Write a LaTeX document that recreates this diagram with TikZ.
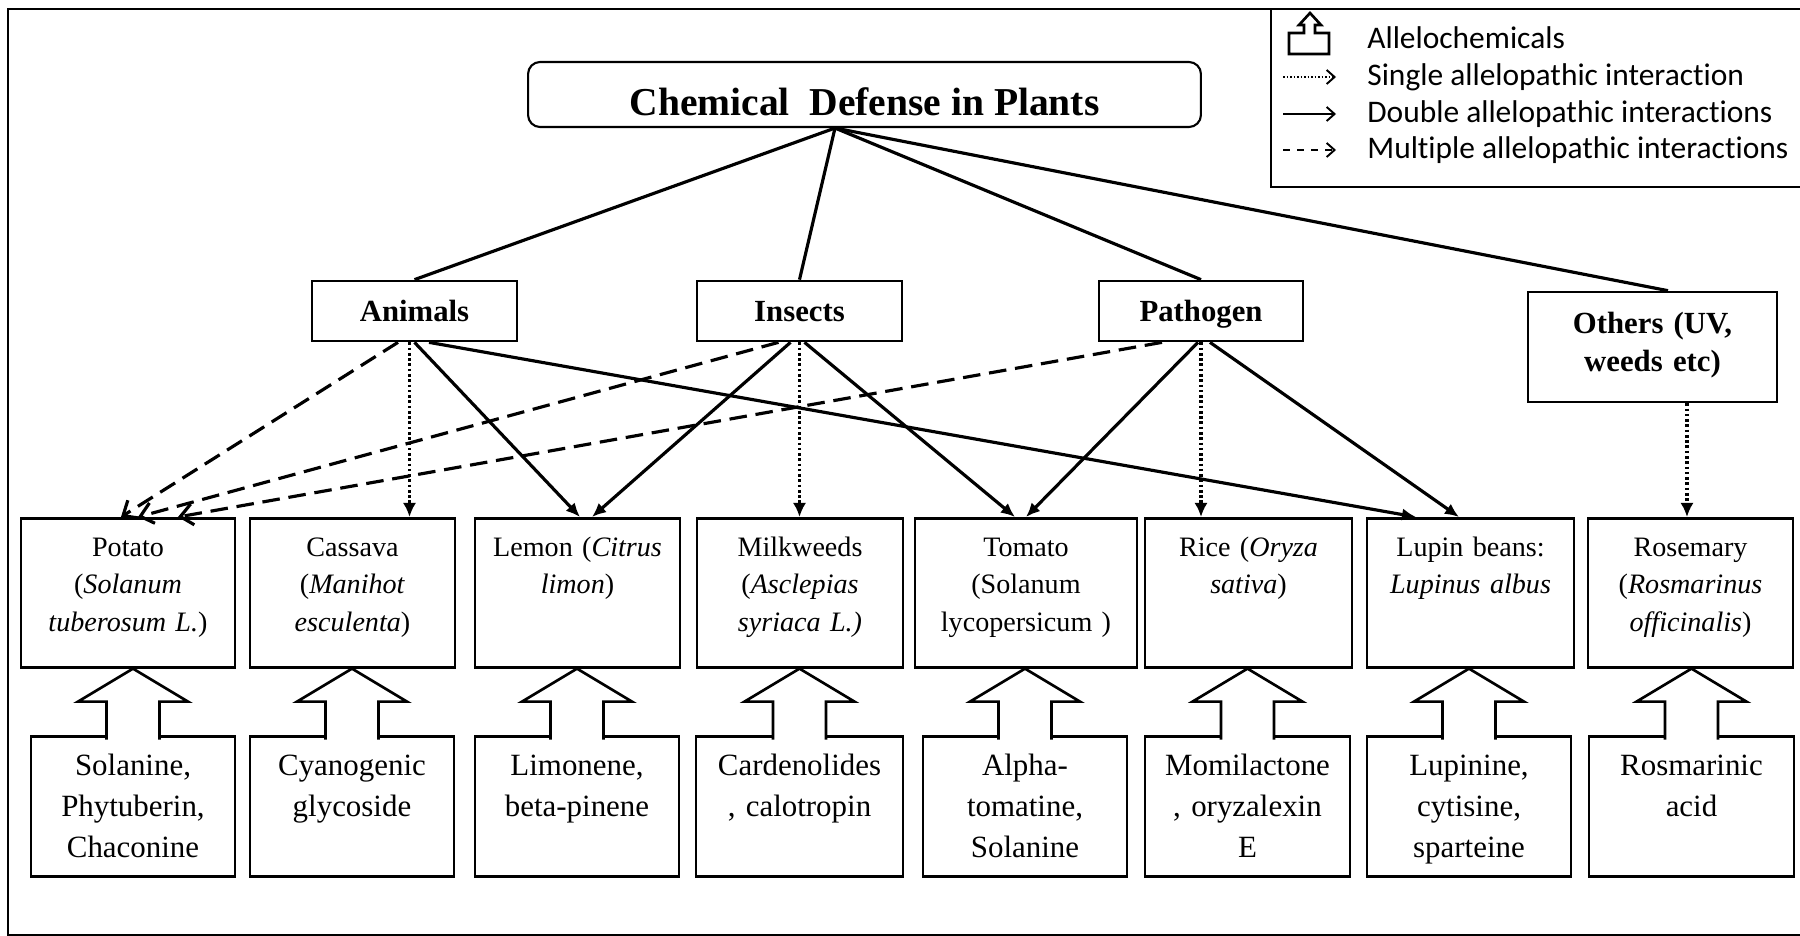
\documentclass[tikz,border=0pt]{standalone}
\usepackage{fontspec}
\setmainfont{Liberation Serif}
\newfontfamily\legendfont[Ligatures=NoCommon]{Carlito}
\usetikzlibrary{arrows.meta}

\begin{document}
\begin{tikzpicture}[
    x=0.02cm, y=-0.02cm,
    every node/.style={inner sep=0pt},
    outerframe/.style={line width=1.3pt},
    headbox/.style={draw,rounded corners=0.24cm,line width=1.2pt,minimum width=13.46cm,text height=30.2pt,text depth=6.8pt,font=\fontsize{22.5}{27}\selectfont\bfseries},
    groupbox/.style={draw,line width=1.5pt,text width=4.1cm,align=center,text height=23.3pt,text depth=10.9pt,font=\fontsize{17.5}{22}\selectfont\bfseries},
    plantbox/.style={draw,line width=1.5pt,anchor=north,text width=4.1cm,align=center,text height=21.6pt,text depth=63.2pt,font=\fontsize{16}{21.3}\selectfont},
    chembox/.style={draw,line width=1.5pt,anchor=north,text width=4.08cm,align=center,text height=22.2pt,text depth=57.5pt,font=\fontsize{17.6}{23.3}\selectfont},
    chemarrow/.style={line width=1.5pt,fill=white,line join=miter},
    link/.style={line width=1.8pt},
    singlelink/.style={link,dash pattern=on 1.5pt off 1.5pt,-{Latex[length=8pt,width=7.5pt]}},
    doublelink/.style={link,-{Latex[length=8pt,width=7pt]}},
    multilink/.style={link,dash pattern=on 10pt off 5pt,-{Straight Barb[length=7pt,width=12pt]}},
    legendtext/.style={anchor=base west,font=\legendfont\fontsize{17.9}{21}\selectfont},
    legendlink/.style={line width=1.1pt,-{Straight Barb[length=4.5pt,width=8pt]}}
  ]
  \useasboundingbox[fill=white] (0,0) rectangle (1800,936);
  \draw[outerframe] (8,9) rectangle (1830,935.5);

  % title and the four threats
  \node[headbox] (head) at (864.5,94.5) {Chemical\ \ Defense in Plants};
  \coordinate (hub) at ([xshift=-0.59cm]head.south);
  \node[groupbox] (animals) at (414.5,311) {Animals};
  \node[groupbox] (insects) at (799.5,311) {Insects};
  \node[groupbox,text width=4.08cm] (pathogen) at (1201,311) {Pathogen};
  \node[groupbox,text width=4.98cm,text height=23.5pt,text depth=39.1pt] (others) at (1652.5,347) {Others (UV,\\weeds etc)};

  % plants
  \node[plantbox,text width=4.28cm] (potato) at (128,517) {Potato\\(\textit{Solanum}\\\textit{tuberosum L.})};
  \node[plantbox] (cassava) at (352.5,517) {Cassava\\(\textit{Manihot}\\\textit{esculenta})};
  \node[plantbox] (lemon) at (577.5,517) {Lemon (\textit{Citrus}\\\textit{limon})};
  \node[plantbox,text width=4.12cm] (milkweed) at (800,517) {Milkweeds\\(\textit{Asclepias}\\\textit{syriaca L.)}};
  \node[plantbox,text width=4.44cm] (tomato) at (1026,517) {Tomato\\(Solanum\\lycopersicum )};
  \node[plantbox,text width=4.14cm] (rice) at (1248.5,517) {Rice (\textit{Oryza}\\\textit{sativa})};
  \node[plantbox,text width=4.14cm] (lupin) at (1470.5,517) {Lupin beans:\\\textit{Lupinus albus}};
  \node[plantbox] (rosemary) at (1690.5,517) {Rosemary\\(\textit{Rosmarinus}\\\textit{officinalis})};

  % allelochemicals
  \node[chembox] (solanine) at (133,735) {Solanine,\\Phytuberin,\\Chaconine};
  \node[chembox] (cyanogenic) at (352,735) {Cyanogenic\\glycoside};
  \node[chembox] (limonene) at (577,735) {Limonene,\\beta-pinene};
  \node[chembox,text width=4.14cm] (cardenolides) at (799.5,735) {Cardenolides\\, calotropin};
  \node[chembox] (alpha) at (1025,735) {Alpha-\\tomatine,\\Solanine};
  \node[chembox,text width=4.1cm] (momilactone) at (1247.5,735) {Momilactone\\, oryzalexin\\E};
  \node[chembox] (lupinine) at (1469,735) {Lupinine,\\cytisine,\\sparteine};
  \node[chembox,text width=4.1cm] (rosmarinic) at (1691.5,735) {Rosmarinic\\acid};

  % block arrows from each chemical up to its plant
  \foreach \c/\p in {solanine/potato,cyanogenic/cassava,limonene/lemon,cardenolides/milkweed,alpha/tomato,momilactone/rice,lupinine/lupin,rosmarinic/rosemary}
    \draw[chemarrow] (\c.north |- \p.south) ++(-26.5,71) -- ++(0,-38) -- ++(-28.5,0) -- ++(55,-33) -- ++(55,33) -- ++(-28.5,0) -- ++(0,38);

  \draw[link] (hub) -- (animals.north);
  \draw[link] (hub) -- (insects.north);
  \draw[link] (hub) -- (pathogen.north);
  \draw[link] (hub) -- ([xshift=0.31cm]others.north);

  \draw[multilink] ([xshift=-0.33cm]animals.south) -- ([xshift=-0.14cm]potato.north);
  \draw[singlelink] ([xshift=-0.1cm]animals.south) -- ([xshift=-0.1cm]animals.south |- cassava.north);
  \draw[doublelink] (animals.south) -- ([xshift=0.05cm]lemon.north);
  \draw[doublelink] ([xshift=0.29cm]animals.south) -- ([xshift=-1.09cm]lupin.north);

  \draw[multilink] ([xshift=-0.42cm]insects.south) -- ([xshift=0.2cm]potato.north);
  \draw[doublelink] ([xshift=-0.18cm]insects.south) -- ([xshift=0.29cm]lemon.north);
  \draw[singlelink] (insects.south) -- (insects.south |- milkweed.north);
  \draw[doublelink] ([xshift=0.1cm]insects.south) -- ([xshift=-0.22cm]tomato.north);

  \draw[multilink] ([xshift=-0.78cm]pathogen.south) -- ([xshift=1cm]potato.north);
  \draw[doublelink] ([xshift=-0.06cm]pathogen.south) -- (tomato.north);
  \draw[singlelink] (pathogen.south) -- (pathogen.south |- rice.north);
  \draw[doublelink] ([xshift=0.18cm]pathogen.south) -- ([xshift=-0.23cm]lupin.north);

  \draw[singlelink] ([xshift=0.69cm]others.south) -- ([xshift=0.69cm]others.south |- rosemary.north);

  % legend
  \draw[outerframe] (1271,9) rectangle (1830,187);
  \draw[line width=1.5pt,line join=miter] (1289,54) -- (1289,33) -- (1304,33) -- (1304,25) -- (1299,25) -- (1310,13)
    -- (1321,25) -- (1315,25) -- (1315,33) -- (1329,33) -- (1329,54) -- cycle;
  \coordinate (sfrom) at (1283,77);  \coordinate (sto) at (1336,77);
  \coordinate (dfrom) at (1283,114); \coordinate (dto) at (1336,114);
  \coordinate (mfrom) at (1283,150); \coordinate (mto) at (1336,150);
  \draw[legendlink,dash pattern=on 1pt off 1pt] (sfrom) -- (sto);
  \draw[legendlink] (dfrom) -- (dto);
  \draw[legendlink,dash pattern=on 4pt off 4pt] (mfrom) -- (mto);
  \node[legendtext] (lgchem) at (1367,49) {Allelochemicals};
  \node[legendtext] (lgsingle) at (1367,86) {Single allelopathic interaction};
  \node[legendtext] (lgdouble) at (1367,123) {Double allelopathic interactions};
  \node[legendtext] (lgmulti) at (1367,159) {Multiple allelopathic interactions};
\end{tikzpicture}
\end{document}
